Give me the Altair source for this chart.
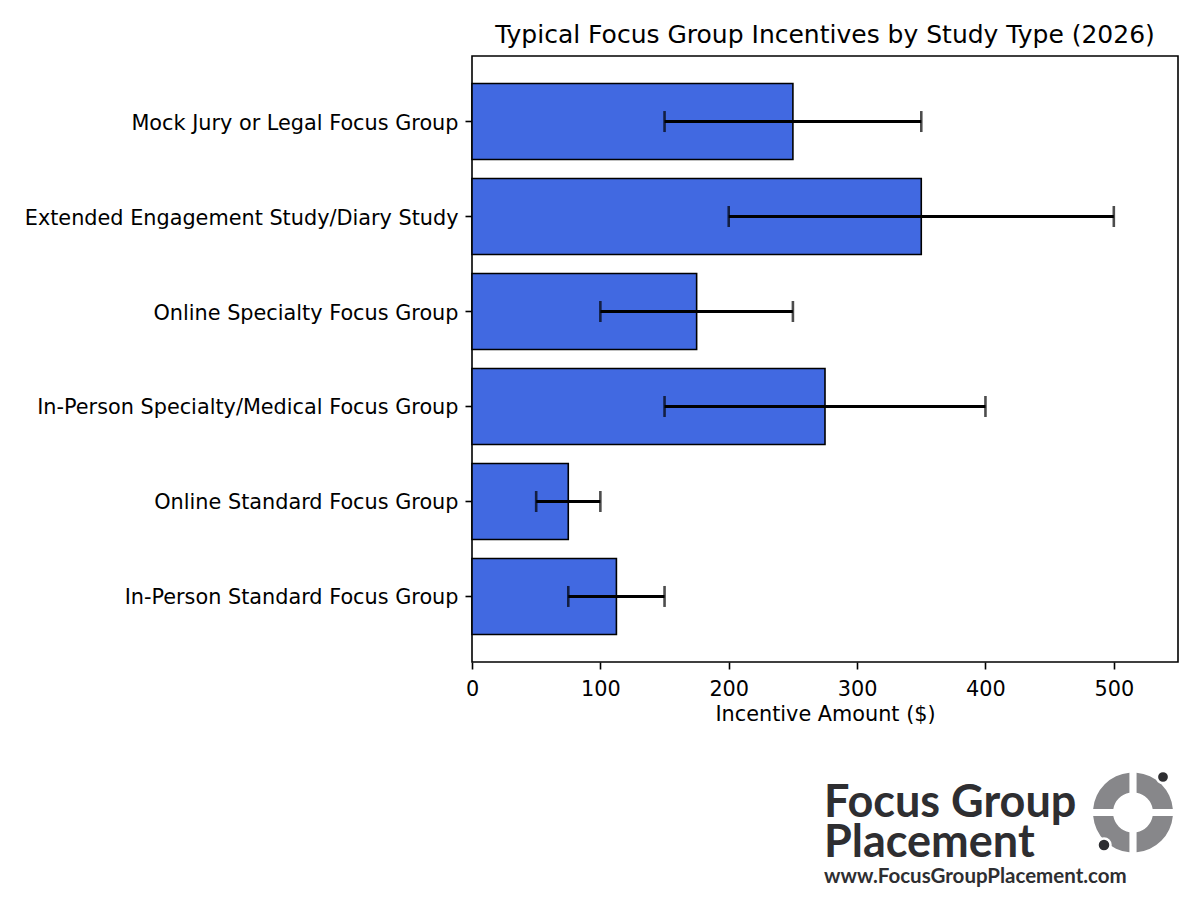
import altair as alt
import pandas as pd
import math

categories = [
    "Mock Jury or Legal Focus Group",
    "Extended Engagement Study/Diary Study",
    "Online Specialty Focus Group",
    "In-Person Specialty/Medical Focus Group",
    "Online Standard Focus Group",
    "In-Person Standard Focus Group",
]
typical = [250, 350, 175, 275, 75, 112.5]
low = [150, 200, 100, 150, 50, 75]
high = [350, 500, 250, 400, 100, 150]
x_ticks = [0, 100, 200, 300, 400, 500]

df = pd.DataFrame({"cat": categories, "val": typical, "lo": low, "hi": high})
dummy = pd.DataFrame({"a": [0]})

FONT = "DejaVu Sans"
LOGO_FONT = "Lato"

yenc = alt.Y("cat:N", sort=categories, title=None,
             scale=alt.Scale(paddingInner=0.2, paddingOuter=0.29))

bars = alt.Chart(df).mark_bar(color="#4169E1", stroke="black", strokeWidth=1.6).encode(
    x=alt.X("val:Q", title="Incentive Amount ($)",
            scale=alt.Scale(domain=[0, 550], nice=False),
            axis=alt.Axis(values=x_ticks, grid=False, labelFlush=False)),
    y=yenc,
)
err = alt.Chart(df).mark_rule(color="black", strokeWidth=3).encode(
    x="lo:Q", x2="hi:Q", y=yenc
)
cap_lo = alt.Chart(df).mark_tick(color="black", thickness=2.6, size=21, orient="vertical").encode(
    x="lo:Q", y=yenc
)
cap_hi = alt.Chart(df).mark_tick(color="black", thickness=2.6, size=21, orient="vertical").encode(
    x="hi:Q", y=yenc
)

# Logo (decoration below the plot)
TXT = "#2e2e31"
t1 = alt.Chart(dummy).mark_text(text="Focus Group", font=LOGO_FONT, fontWeight="bold",
                                fontSize=45, align="left", baseline="alphabetic", color=TXT).encode(
    x=alt.value(352), y=alt.value(761))
t2 = alt.Chart(dummy).mark_text(text="Placement", font=LOGO_FONT, fontWeight="bold",
                                fontSize=45, align="left", baseline="alphabetic", color=TXT).encode(
    x=alt.value(352), y=alt.value(801))
t3 = alt.Chart(dummy).mark_text(text="www.FocusGroupPlacement.com", font=LOGO_FONT, fontWeight="bold",
                                fontSize=20.5, align="left", baseline="alphabetic", color=TXT).encode(
    x=alt.value(352), y=alt.value(827))

arcs = []
for k in range(4):
    arcs.append(
        alt.Chart(dummy).mark_arc(theta=k * math.pi / 2, theta2=(k + 1) * math.pi / 2,
                                  radius=40, radius2=20, padAngle=0.16, color="#87878a").encode(
            x=alt.value(661), y=alt.value(756.5))
    )
dot1 = alt.Chart(dummy).mark_circle(size=150, color="#2e2e31", opacity=1, stroke="white", strokeWidth=2.5).encode(
    x=alt.value(691), y=alt.value(721))
dot2 = alt.Chart(dummy).mark_circle(size=170, color="#2e2e31", opacity=1, stroke="white", strokeWidth=2.5).encode(
    x=alt.value(632), y=alt.value(789))

chart = alt.layer(bars, err, cap_lo, cap_hi, t1, t2, t3, *arcs, dot1, dot2).properties(
    width=706, height=606,
    title=alt.Title("Typical Focus Group Incentives by Study Type (2026)"),
    padding={"left": 472, "top": 56, "right": 22, "bottom": 249},
    autosize=alt.AutoSizeParams(type="none"),
).configure_view(
    stroke="black", strokeWidth=1.6
).configure_axis(
    labelFont=FONT, titleFont=FONT, labelFontSize=20.8, titleFontSize=20.8,
    labelColor="black", titleColor="black", tickColor="black", tickWidth=1.6,
    tickSize=7, labelPadding=7, domain=False, grid=False, titleFontWeight="normal",
).configure_axisY(
    labelLimit=600, labelOffset=2,
).configure_axisX(
    titlePadding=6, labelPadding=10,
).configure_title(
    font=FONT, fontSize=25, fontWeight="normal", color="black", anchor="middle", offset=8,
)

chart.save("out.html", embed_options={"renderer": "svg", "actions": False})
